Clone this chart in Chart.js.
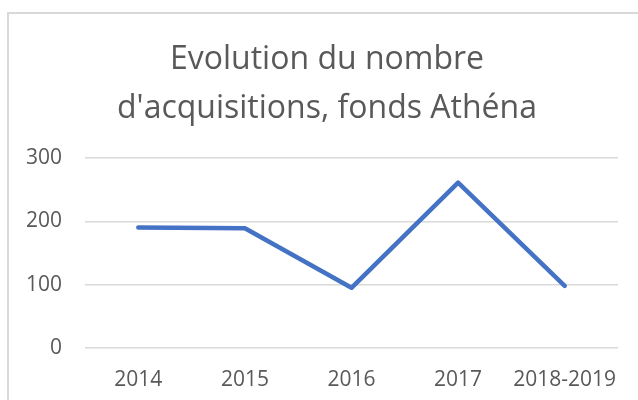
<!DOCTYPE html>
<html>
<head>
<meta charset="utf-8">
<script src="https://cdn.jsdelivr.net/npm/chart.js@4"></script>
<style>
  html, body { margin: 0; padding: 0; background: #fff; }
  #wrap { width: 638px; height: 400px; }
</style>
</head>
<body>
<div id="wrap"><canvas id="chart" width="638" height="400"></canvas></div>
<script>
// categories and values
const years = ["2014", "2015", "2016", "2017", "2018-2019"];
const acquisitions = [190, 189, 95, 261, 98];
const yTicks = [0, 100, 200, 300];

const textGrey = "#595959";

// light grey frame around the chart, like the office export
const framePlugin = {
  id: "frame",
  beforeDraw(chart) {
    const ctx = chart.ctx;
    ctx.save();
    ctx.fillStyle = "#fff";
    ctx.fillRect(0, 0, chart.width, chart.height);
    ctx.strokeStyle = "#d9d9d9";
    ctx.lineWidth = 2;
    ctx.strokeRect(8, 13, 700, 500);
    ctx.restore();
  }
};

new Chart(document.getElementById("chart"), {
  type: "line",
  data: {
    labels: years,
    datasets: [{
      label: "Acquisitions",
      data: acquisitions,
      borderColor: "#4472C4",
      borderWidth: 4.5,
      borderCapStyle: "round",
      borderJoinStyle: "round",
      pointRadius: 0,
      tension: 0,
      fill: false
    }]
  },
  options: {
    responsive: false,
    animation: false,
    layout: { padding: { left: 16, right: 0, top: 0, bottom: 9 } },
    plugins: {
      legend: { display: false },
      tooltip: { enabled: false },
      title: {
        display: true,
        text: ["Evolution du nombre", "d'acquisitions, fonds Athéna"],
        color: textGrey,
        font: { family: "'Open Sans'", size: 32, weight: "normal", lineHeight: 1.53 },
        padding: { top: 35, bottom: 25 }
      }
    },
    scales: {
      x: {
        offset: true,
        afterFit(axis) { axis.height = 43; },
        grid: { display: false, drawTicks: false },
        border: { display: false },
        ticks: {
          color: textGrey,
          padding: 19,
          maxRotation: 0,
          font: { family: "'Open Sans'", size: 21 }
        }
      },
      y: {
        min: 0,
        max: 300,
        afterBuildTicks(axis) {
          axis.ticks = yTicks.map(v => ({ value: v }));
        },
        afterFit(axis) { axis.width = 69; },
        grid: { color: "#d9d9d9", lineWidth: 1.5, drawTicks: false },
        border: { display: false },
        ticks: {
          color: textGrey,
          padding: 23,
          font: { family: "'Open Sans'", size: 21 }
        }
      },
      // empty right-hand scale, only keeps the plot clear of the right edge
      yRight: {
        position: "right",
        display: true,
        min: 0,
        max: 300,
        afterFit(axis) { axis.width = 20; },
        grid: { display: false, drawTicks: false },
        border: { display: false },
        ticks: { display: false }
      }
    }
  },
  plugins: [framePlugin]
});
</script>
</body>
</html>
